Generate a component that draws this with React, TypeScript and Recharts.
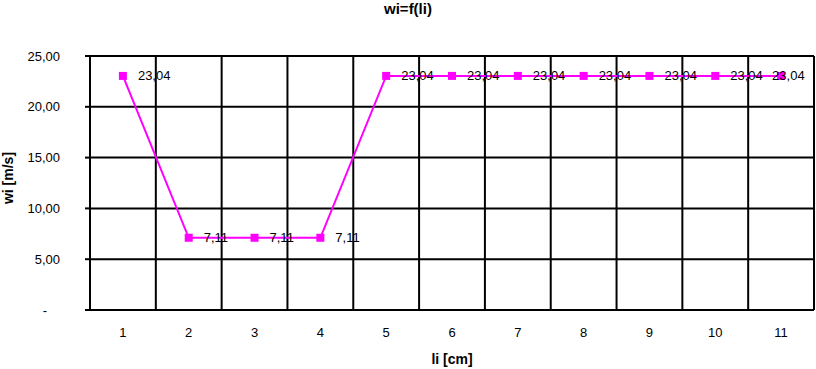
import { CartesianGrid, LabelList, Line, LineChart, XAxis, YAxis } from 'recharts'

const positions = [1, 2, 3, 4, 5, 6, 7, 8, 9, 10, 11]
const speeds = [23.04, 7.11, 7.11, 7.11, 23.04, 23.04, 23.04, 23.04, 23.04, 23.04, 23.04]
const yTicks = [0, 5, 10, 15, 20, 25]
const boundaries = [0.5, 1.5, 2.5, 3.5, 4.5, 5.5, 6.5, 7.5, 8.5, 9.5, 10.5, 11.5]

const data = positions.map((x, i) => ({ x, wi: speeds[i] }))

const FONT = '"Liberation Sans", Arial, sans-serif'
const comma = (v: number) => v.toFixed(2).replace('.', ',')

function YTick({ x, y, payload }: any) {
  const v = payload.value as number
  if (v === 0) {
    return (
      <text x={x - 15} y={y} dy="0.35em" textAnchor="middle" fontSize={13} fontFamily={FONT} fill="#000">
        -
      </text>
    )
  }
  return (
    <text x={x} y={y} dy="0.35em" textAnchor="end" fontSize={13} fontFamily={FONT} fill="#000">
      {comma(v)}
    </text>
  )
}

function YLabel({ viewBox }: any) {
  const cx = 8
  const cy = viewBox.y + viewBox.height / 2 - 5
  return (
    <text
      x={cx}
      y={cy}
      dy="0.35em"
      textAnchor="middle"
      transform={`rotate(-90 ${cx} ${cy})`}
      fontSize={14}
      fontWeight="bold"
      fontFamily={FONT}
      fill="#000"
    >
      wi [m/s]
    </text>
  )
}

// the last label sits over its marker so it stays inside the chart, as in the original
function PointLabel({ x, y, value, index }: any) {
  const last = index === positions.length - 1
  return (
    <text x={last ? x - 9 : x + 15} y={y} dy="0.35em" textAnchor="start" fontSize={13} fontFamily={FONT} fill="#000">
      {comma(Number(value))}
    </text>
  )
}

function SquareDot({ cx, cy }: any) {
  if (cx == null || cy == null) return null
  return <rect x={cx - 4} y={cy - 4} width={8} height={8} fill="#ff00ff" />
}

export default function App() {
  return (
    <div style={{ position: 'absolute', left: 0, top: 0, width: 816, height: 369, background: '#fff', fontFamily: FONT }}>
      <div style={{ position: 'absolute', left: 0, top: 0, width: 816, textAlign: 'center', lineHeight: '18px' }}>
        <span style={{ fontSize: 15, fontWeight: 'bold' }}>wi=f(li)</span>
      </div>
      <LineChart width={816} height={369} data={data} margin={{ top: 56, right: 2, bottom: 0, left: 0 }}>
        <CartesianGrid xAxisId="grid" stroke="#000" strokeWidth={2} verticalValues={boundaries} horizontalValues={yTicks} />
        <XAxis
          xAxisId="grid"
          type="number"
          dataKey="x"
          domain={[0.5, 11.5]}
          ticks={boundaries}
          tickFormatter={() => ''}
          tickSize={5}
          stroke="#000"
          strokeWidth={2}
          height={0}
        />
        <XAxis
          xAxisId="lab"
          type="number"
          dataKey="x"
          domain={[0.5, 11.5]}
          ticks={positions}
          axisLine={false}
          tickLine={false}
          tickSize={0}
          tickMargin={18}
          tick={{ fontSize: 13, fill: '#000', fontFamily: FONT }}
          height={59}
          label={{ value: 'li [cm]', position: 'insideBottom', offset: 5, fontSize: 14, fontWeight: 'bold', fill: '#000', fontFamily: FONT }}
        />
        <YAxis
          type="number"
          domain={[0, 25]}
          ticks={yTicks}
          width={90}
          tickSize={5}
          tickMargin={25}
          stroke="#000"
          strokeWidth={2}
          tick={<YTick />}
          label={<YLabel />}
        />
        <Line
          xAxisId="lab"
          dataKey="wi"
          stroke="#ff00ff"
          strokeWidth={2}
          dot={<SquareDot />}
          activeDot={false}
          isAnimationActive={false}
        >
          <LabelList dataKey="wi" content={<PointLabel />} />
        </Line>
      </LineChart>
    </div>
  )
}
